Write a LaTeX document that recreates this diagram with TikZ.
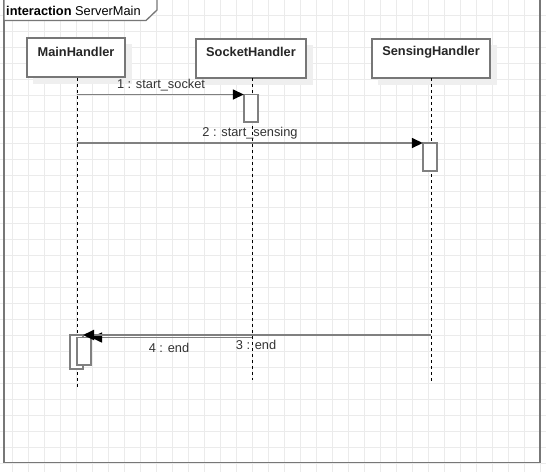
\documentclass[tikz,border=0pt]{standalone}
\usepackage{fontspec}
\setmainfont{Liberation Sans}
\usetikzlibrary{arrows.meta}
\definecolor{gridc}{HTML}{EBEBEB}
\definecolor{framec}{HTML}{777777}
\definecolor{linec}{HTML}{808080}
\definecolor{txtc}{HTML}{333333}
\definecolor{shadowc}{HTML}{EFEFEF}
\tikzset{
  lifebox/.style={draw=framec, line width=1.3pt, fill=white, minimum width=#1, minimum height=39pt, inner sep=0pt},
  lifetext/.style={font=\bfseries\fontsize{12.8}{14}\selectfont, text=black!85},
  lifeline/.style={black, line width=0.8pt, dash pattern=on 3pt off 3pt},
  msg/.style={draw=linec, line width=1.5pt, -{Triangle[length=11pt,width=10pt,fill=black,color=black]}},
  msglabel/.style={font=\fontsize{12.8}{14}\selectfont, text=txtc, inner sep=0pt},
  act/.style={draw=linec, line width=1.3pt, fill=white}
}
\begin{document}
\begin{tikzpicture}[x=1pt,y=-1pt]
\useasboundingbox (0,0) rectangle (546,472);
\fill[white] (0,0) rectangle (546,472);
% grid
\foreach \gx in {12,28,...,540} \draw[gridc, line width=0.8pt] (\gx,0) -- (\gx,472);
\foreach \gy in {15,31,...,463} \draw[gridc, line width=0.8pt] (0,\gy) -- (546,\gy);
% frame
\draw[framec, line width=1.6pt] (4,0) -- (4,462.5) -- (540,462.5) -- (540,0);
\draw[framec, line width=1.3pt, fill=white] (4,0) -- (4,20.5) -- (146,20.5) -- (157,10) -- (157,0);
\node[anchor=west, inner sep=0pt, font=\fontsize{12.8}{14}\selectfont] (title) at (6,10.5) {\textbf{interaction} ServerMain};
% shadows
\fill[shadowc] (33,44) rectangle (132,84);
\fill[shadowc] (202,45) rectangle (313,85);
\fill[shadowc] (378,45) rectangle (497,85);
% lifelines
\coordinate (mainEnd) at (77,388);
\coordinate (sockEnd) at (252,380);
\coordinate (sensEnd) at (431,382);
\node[lifebox=98pt] (main) at (76,57.5) {};
\node[lifebox=110pt] (sock) at (251,58.5) {};
\node[lifebox=118pt] (sens) at (431,58.5) {};
\node[lifetext] at (76,52) {MainHandler};
\node[lifetext] at (251,52) {SocketHandler};
\node[lifetext] at (431,52) {SensingHandler};
\draw[lifeline] (77,78) -- (mainEnd);
\draw[lifeline] (252,78) -- (sockEnd);
\draw[lifeline] (431,78) -- (sensEnd);
% activations
\draw[act] (244,94.5) rectangle (258,122);
\node[inner sep=0pt, minimum size=0pt] (actS) at (244,94.5) {};
\draw[act] (423,143) rectangle (437,171);
\node[inner sep=0pt, minimum size=0pt] (actE) at (423,143) {};
\draw[act] (70,335) rectangle (83,369);
\draw[act] (77,337.5) rectangle (91,365);
\coordinate (m1s) at (77,94.5);
\coordinate (m2s) at (77,143);
\coordinate (m3s) at (431,335);
\coordinate (m3e) at (83,335);
\coordinate (m4s) at (252,337.5);
\coordinate (m4e) at (91,337.5);
% messages
\draw[msg] (m1s) -- (actS);
\node[msglabel] at (161,85) {1 : start\_socket};
\draw[msg] (m2s) -- (actE);
\node[msglabel] at (250,133) {2 : start\_sensing};
\draw[msg] (m4s) -- (m4e);
\draw[msg, line width=2pt] (m3s) -- (m3e);
\node[msglabel] at (256,344.5) {3 : end};
\node[msglabel] at (169,347.5) {4 : end};
\end{tikzpicture}
\end{document}
